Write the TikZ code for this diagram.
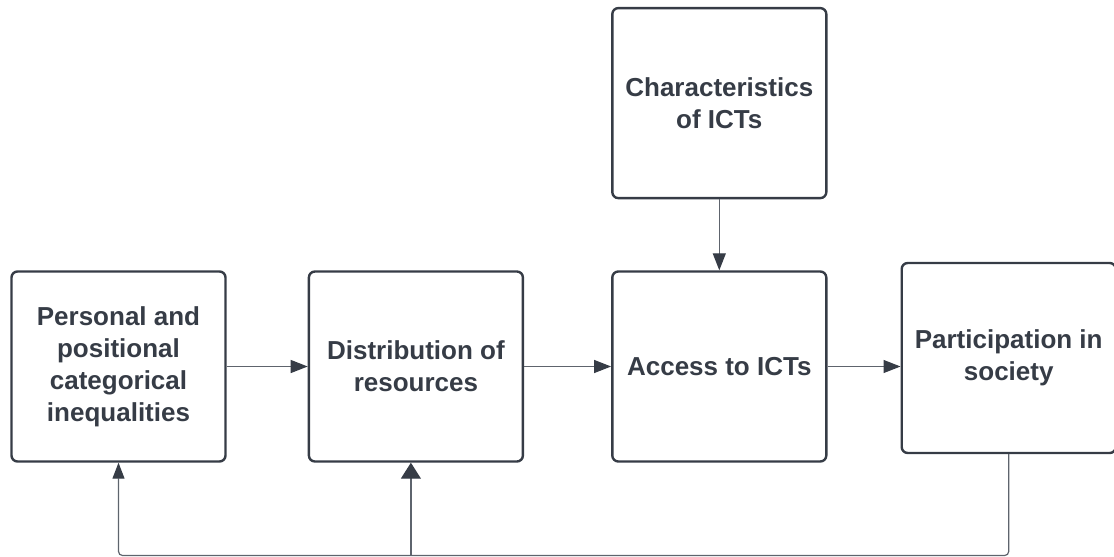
\documentclass[tikz,border=0pt]{standalone}
\usepackage{fontspec}
\setmainfont{Liberation Sans}
\usepackage{xcolor}
\usetikzlibrary{arrows.meta, positioning}

\definecolor{ink}{HTML}{363C46}
\definecolor{wire}{HTML}{5E646D}

\begin{document}
\begin{tikzpicture}[
  x = 1pt, y = -1pt,
  node distance = 81pt,
  blk/.style = {draw=ink, line width=2.4pt, rounded corners=6pt, align=center,
                minimum width=214pt, minimum height=190pt,
                inner sep=0pt, text=ink,
                font=\fontsize{26}{32}\selectfont\bfseries},
  arr/.style = {-{Triangle[length=17pt, width=13pt, color=ink]},
                line width=1.2pt, draw=wire}
]
\useasboundingbox (0,0) rectangle (1114,557);

\node[blk] (ineq) at (118.5,366.5) {Personal and\\positional\\categorical\\inequalities};
\node[blk, right=81pt of ineq] (res) {Distribution of\\resources};
\node[blk, right=87pt of res] (access) {Access to ICTs};
\node[blk, above=71pt of access] (chars) {Characteristics\\of ICTs};
\node[blk, right=73pt of access, yshift=8.5pt] (part) {Participation in\\society};
\coordinate (fb) at (0,555.5);

\draw[arr] (ineq) -- (res);
\draw[arr] (res) -- (access);
\draw[arr] (access.east) -- (access.east -| part.west);
\draw[arr] (chars) -- (access);
% feedback loop along the bottom
\draw[arr, -{Triangle[length=16pt, width=12pt, color=ink]}, rounded corners=4pt]
  (part.south) -- (part.south |- fb) -| (ineq.south);
\draw[arr, -{Triangle[length=16pt, width=20pt, color=ink]}]
  ([xshift=-5pt]res.south |- fb) -- ([xshift=-5pt]res.south);
\end{tikzpicture}
\end{document}
